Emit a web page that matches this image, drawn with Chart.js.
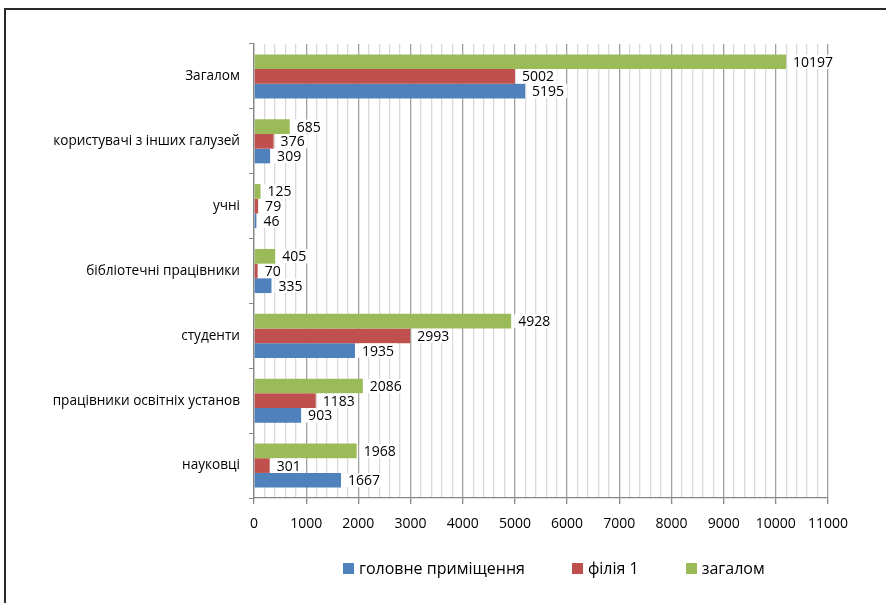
<!DOCTYPE html>
<html>
<head>
<meta charset="utf-8">
<script src="https://cdn.jsdelivr.net/npm/chart.js@4"></script>
<style>
  html, body { margin: 0; padding: 0; background: #fff; }
  #wrap { position: relative; width: 886px; height: 603px; overflow: hidden; }
  #frame { position: absolute; left: 4px; top: 8px; width: 900px; height: 640px; border-left: 2px solid #2a2a2a; border-top: 2px solid #2a2a2a; box-sizing: border-box; }
  #chart { position: absolute; left: 0; top: 0; }
  #legend { position: absolute; left: 343px; top: 557px; display: flex; align-items: center;
            font-family: "Open Sans", "Liberation Sans", sans-serif; font-size: 16px; color: #000; white-space: nowrap; }
  #legend .item { display: flex; align-items: center; margin-right: 47px; }
  #legend .box { width: 11px; height: 11px; margin-right: 5px; }
</style>
</head>
<body>
<div id="wrap">
  <div id="frame"></div>
  <canvas id="chart" width="886" height="603"></canvas>
  <div id="legend"></div>
</div>
<script>
const categories = [
  'Загалом',
  'користувачі з інших галузей',
  'учні',
  'бібліотечні працівники',
  'студенти',
  'працівники освітніх установ',
  'науковці'
];
const headValues = [5195, 309, 46, 335, 1935, 903, 1667];
const branchValues = [5002, 376, 79, 70, 2993, 1183, 301];
const totalValues = [10197, 685, 125, 405, 4928, 2086, 1968];
const axisTicks = [0, 1000, 2000, 3000, 4000, 5000, 6000, 7000, 8000, 9000, 10000, 11000];

const FONT = '"Open Sans", "Liberation Sans", sans-serif';

// value labels to the right of each bar, on a white box
const valueLabels = {
  id: 'valueLabels',
  afterDatasetsDraw(chart) {
    const ctx = chart.ctx;
    ctx.save();
    ctx.font = '14px ' + FONT;
    ctx.textBaseline = 'middle';
    chart.data.datasets.forEach((ds, i) => {
      const meta = chart.getDatasetMeta(i);
      meta.data.forEach((bar, j) => {
        const txt = String(ds.data[j]);
        const w = ctx.measureText(txt).width;
        const x = bar.x + 7;
        ctx.fillStyle = '#fff';
        ctx.fillRect(x - 4, bar.y - 7, w + 7, 14);
        ctx.fillStyle = '#000';
        ctx.fillText(txt, x, bar.y + 1);
      });
    });
    ctx.restore();
  }
};

const chart = new Chart(document.getElementById('chart'), {
  type: 'bar',
  data: {
    labels: categories,
    datasets: [
      { label: 'загалом', data: totalValues, backgroundColor: '#9BBB59' },
      { label: 'філія 1', data: branchValues, backgroundColor: '#C0504D' },
      { label: 'головне приміщення', data: headValues, backgroundColor: '#4F81BD' }
    ]
  },
  options: {
    indexAxis: 'y',
    responsive: false,
    animation: false,
    categoryPercentage: 0.68,
    barPercentage: 1,
    layout: { padding: { top: 44, right: 58, left: 0, bottom: 65 } },
    scales: {
      x: {
        min: 0,
        max: 11000,
        afterBuildTicks: s => {
          const t = [];
          for (let v = 0; v <= 11000; v += 200) t.push({ value: v });
          s.ticks = t;
        },
        afterFit: s => { s.height = 40; },
        ticks: {
          autoSkip: false,
          maxRotation: 0,
          color: '#000',
          padding: 12,
          font: { family: FONT, size: 14 },
          callback: v => axisTicks.includes(v) ? v : ''
        },
        grid: {
          color: c => (c.tick && c.tick.value % 1000 === 0) ? '#a0a0a0' : '#d9d9d9',
          tickColor: c => (c.tick && c.tick.value % 1000 === 0) ? '#868686' : 'rgba(0,0,0,0)',
          tickLength: 6,
          lineWidth: 1.3
        },
        border: { color: '#868686', width: 1.3 }
      },
      y: {
        afterFit: s => { s.width = 254; },
        ticks: {
          color: '#000',
          padding: 9,
          font: { family: FONT, size: 13.6 }
        },
        grid: {
          drawOnChartArea: false,
          tickLength: 5,
          tickColor: '#868686'
        },
        border: { color: '#868686', width: 1.3 }
      }
    },
    plugins: {
      legend: { display: false },
      tooltip: { enabled: false }
    }
  },
  plugins: [valueLabels]
});

// legend in series order (blue, red, green)
const legendEl = document.getElementById('legend');
chart.data.datasets.slice().reverse().forEach(ds => {
  const item = document.createElement('div');
  item.className = 'item';
  const box = document.createElement('span');
  box.className = 'box';
  box.style.background = ds.backgroundColor;
  const label = document.createElement('span');
  label.textContent = ds.label;
  item.appendChild(box);
  item.appendChild(label);
  legendEl.appendChild(item);
});
</script>
</body>
</html>
